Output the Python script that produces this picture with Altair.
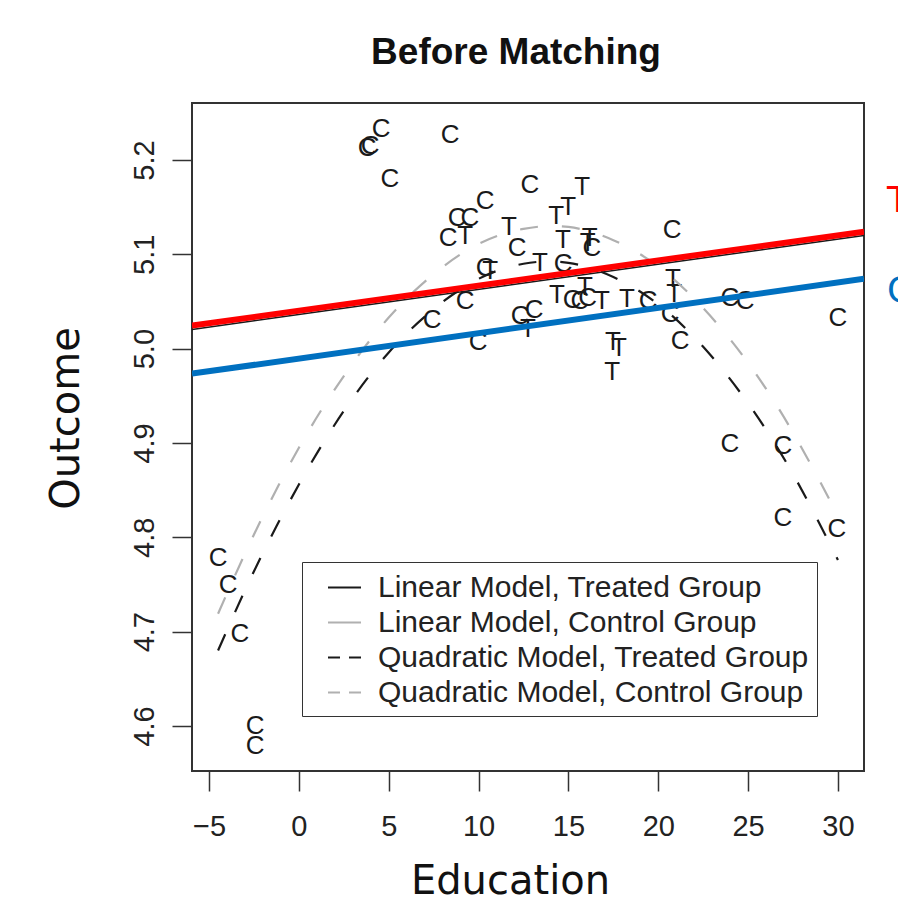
import altair as alt
import pandas as pd

# ---------------- data ----------------
control_x = [4.57, 3.96, 3.80, 8.41, 5.07, 8.80, 9.52, 10.36, 8.30, 12.86, 12.14, 14.70, 10.36,
             9.25, 7.41, 9.97, 12.31, 13.09, 15.20, 15.64, 16.07, 16.30, 19.43, 20.77, 20.66,
             21.22, 23.99, 24.83, 30.00, 23.99, 26.94, 26.94, 29.94, -4.50, -3.94, -3.28, -2.44, -2.44]
control_y = [5.233, 5.215, 5.213, 5.226, 5.180, 5.139, 5.138, 5.156, 5.117, 5.173, 5.107, 5.090, 5.086,
             5.051, 5.030, 5.007, 5.035, 5.041, 5.052, 5.051, 5.054, 5.107, 5.051, 5.126, 5.037,
             5.008, 5.054, 5.051, 5.033, 4.899, 4.897, 4.820, 4.809, 4.778, 4.749, 4.698, 4.600, 4.579]
treated_x = [15.76, 14.98, 14.32, 9.25, 11.69, 14.70, 16.07, 16.19, 13.42, 10.64, 12.75, 14.36,
             15.92, 16.87, 18.26, 20.82, 20.88, 17.48, 17.81, 17.43]
treated_y = [5.171, 5.150, 5.141, 5.119, 5.129, 5.115, 5.112, 5.117, 5.091, 5.082, 5.021, 5.057,
             5.065, 5.051, 5.053, 5.074, 5.058, 5.007, 5.001, 4.975]

quad_x = [-4.5, -2.5, 0, 2.5, 5, 7.5, 10, 12.5, 15, 17.5, 20, 22.5, 25, 27.5, 30]
quad_treated_y = [4.680, 4.764, 4.856, 4.934, 4.996, 5.042, 5.074, 5.090, 5.091, 5.076, 5.047,
                  5.002, 4.942, 4.867, 4.776]
quad_control_y = [4.719, 4.803, 4.895, 4.971, 5.033, 5.079, 5.111, 5.127, 5.129, 5.115, 5.087,
                  5.043, 4.985, 4.911, 4.823]

lin_x = [-5.95, 31.45]
lin_treated_y = [5.0204, 5.1200]
lin_control_y = [4.9735, 5.0740]
red_y = [5.0244, 5.1240]
blue_y = [4.9735, 5.0740]

ann_labels = ["T", "C"]
ann_x = [32.73, 32.73]
ann_y = [5.157, 5.0615]

legend_labels = ["Linear Model, Treated Group", "Linear Model, Control Group",
                 "Quadratic Model, Treated Group", "Quadratic Model, Control Group"]
legend_colors = ["#1a1a1a", "#b0b0b0", "#1a1a1a", "#b0b0b0"]
legend_dashes = [[1, 0], [1, 0], [12, 9], [12, 9]]

x_ticks = [-5, 0, 5, 10, 15, 20, 25, 30]
y_ticks = [4.6, 4.7, 4.8, 4.9, 5.0, 5.1, 5.2]

# ---------------- chart ----------------
xscale = alt.Scale(domain=[-5.95, 31.45], nice=False, zero=False)
yscale = alt.Scale(domain=[4.5523, 5.2604], nice=False, zero=False)

x_axis = alt.Axis(values=x_ticks, format="d", title="Education", grid=False, domain=False,
                  tickSize=20, tickWidth=1.5, tickColor="#333",
                  labelFont="Liberation Sans", labelFontSize=29, labelColor="#222",
                  labelPadding=44, labelBaseline="alphabetic", labelFlush=False,
                  titleFont="DejaVu Sans", titleFontSize=40, titleFontWeight="normal",
                  titleColor="#111", titleX=318, titleY=122, titleAlign="center",
                  titleBaseline="alphabetic")
y_axis = alt.Axis(values=y_ticks, format=".1f", title="Outcome", grid=False, domain=False,
                  tickSize=20, tickWidth=1.5, tickColor="#333",
                  labelFont="Liberation Sans", labelFontSize=29, labelColor="#222",
                  labelAngle=270, labelAlign="center", labelBaseline="alphabetic",
                  labelPadding=19, labelFlush=False,
                  titleFont="DejaVu Sans", titleFontSize=40, titleFontWeight="normal",
                  titleColor="#111", titleAngle=270, titleX=-114, titleY=315,
                  titleAlign="center", titleBaseline="alphabetic")

X = alt.X("Education:Q", scale=xscale, axis=x_axis)
Y = alt.Y("Outcome:Q", scale=yscale, axis=y_axis)

pts = pd.DataFrame({
    "Education": control_x + treated_x,
    "Outcome": control_y + treated_y,
    "group": ["C"] * len(control_x) + ["T"] * len(treated_x),
})

points = alt.Chart(pts).mark_text(font="Liberation Sans", fontSize=26, color="#1a1a1a",
                                  align="center", baseline="middle").encode(
    x=X, y=Y, text="group:N",
)


def line_layer(xs, ys, color, width, dash=None, interp="linear"):
    df = pd.DataFrame({"Education": xs, "Outcome": ys})
    kw = dict(color=color, strokeWidth=width, clip=True, interpolate=interp)
    if dash is not None:
        kw["strokeDash"] = dash
    return alt.Chart(df).mark_line(**kw).encode(x=X, y=Y)


quad_t = line_layer(quad_x, quad_treated_y, "#1a1a1a", 2.2, [18, 24], "natural")
quad_c = line_layer(quad_x, quad_control_y, "#b0b0b0", 2.2, [18, 24], "natural")
lin_t = line_layer(lin_x, lin_treated_y, "#1a1a1a", 1.5)
lin_c = line_layer(lin_x, lin_control_y, "#b0b0b0", 1.5)
red = line_layer(lin_x, red_y, "#ff0000", 6)
blue = line_layer(lin_x, blue_y, "#0070c0", 6)

leg_df = pd.DataFrame({"Education": [0.0] * 4, "Outcome": [5.0] * 4, "model": legend_labels})
legend_def = alt.Legend(title=None, orient="none", legendX=110, legendY=459, direction="vertical",
                        strokeColor="#333", fillColor="white", padding=8,
                        labelFont="Liberation Sans", labelFontSize=30, labelColor="#222",
                        labelLimit=700, symbolType="stroke", symbolSize=1089,
                        symbolStrokeWidth=2, symbolOffset=17, labelOffset=16, rowPadding=2)
legend_layer = alt.Chart(leg_df).transform_filter("false").mark_line().encode(
    x=X, y=Y,
    color=alt.Color("model:N", scale=alt.Scale(domain=legend_labels, range=legend_colors),
                    legend=legend_def),
    strokeDash=alt.StrokeDash("model:N", scale=alt.Scale(domain=legend_labels, range=legend_dashes),
                              legend=legend_def),
)


def ann_layer(i, color):
    df = pd.DataFrame({"Education": [ann_x[i]], "Outcome": [ann_y[i]], "lab": [ann_labels[i]]})
    return alt.Chart(df).mark_text(font="DejaVu Sans", fontSize=36, color=color, align="left",
                                   baseline="middle", clip=False).encode(
        x=X, y=Y, text="lab:N",
    )


chart = alt.layer(
    points, quad_c, quad_t, lin_c, lin_t, legend_layer, red, blue,
    ann_layer(0, "#ff0000"), ann_layer(1, "#0070c0"),
).properties(
    width=672, height=668,
    background="white",
    autosize=alt.AutoSizeParams(type="none"),
    padding={"left": 184, "top": 95, "right": 34, "bottom": 132},
    title=alt.TitleParams("Before Matching", font="Liberation Sans", fontSize=37,
                          fontWeight="bold", color="#111", anchor="middle", dx=-12,
                          offset=2, baseline="alphabetic"),
).configure_view(stroke="#333", strokeWidth=2)

chart.save("out.html", embed_options={"renderer": "svg", "actions": False})
